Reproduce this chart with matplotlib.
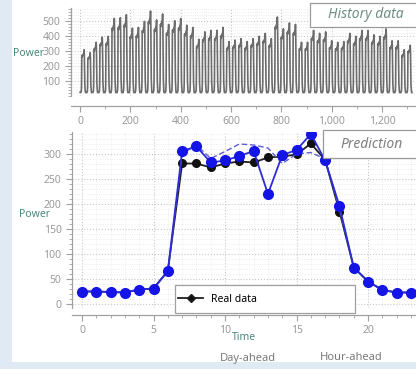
import matplotlib.pyplot as plt
import numpy as np
from matplotlib.lines import Line2D
from matplotlib.patches import Rectangle
from matplotlib.ticker import MultipleLocator, StrMethodFormatter

plt.rcParams['font.family'] = ['Noto Sans', 'DejaVu Sans']

# prediction panel (hourly values, one day)
hours = list(range(24))
real_data = [25, 25, 24, 23, 29, 31, 66, 281, 281, 273, 281, 285, 283, 293,
             295, 299, 321, 288, 185, 73, 45, 28, 23, 23]
hour_ahead = [25, 25, 24, 23, 29, 31, 66, 306, 315, 283, 287, 296, 306, 220,
              298, 308, 340, 287, 196, 73, 45, 28, 23, 23]
day_ahead = [25, 25, 24, 23, 29, 31, 66, 300, 318, 291, 305, 320, 318, 312,
             281, 300, 303, 290, 190, 73, 45, 28, 23, 23]

# history panel: daily peaks (55 days)
daily_peaks = [310, 290, 360, 395, 400, 520, 525, 545, 455, 460, 500, 570,
               510, 550, 480, 505, 520, 475, 460, 380, 430, 440, 440, 460,
               365, 375, 385, 365, 385, 400, 420, 385, 530, 450, 490, 480,
               360, 360, 440, 420, 430, 370, 360, 365, 420, 400, 440, 440,
               410, 400, 450, 370, 370, 310, 340]

# history curve: the real-data day profile stretched to each day's peak
profile = np.array(real_data, dtype=float)
base, top = profile.min(), profile.max()
history = np.concatenate([base + (profile - base) / (top - base) * (p - base)
                          for p in daily_peaks])
history_x = np.arange(len(history))

W, H = 416, 369
fig = plt.figure(figsize=(W / 100, H / 100), dpi=100, facecolor='#dfeaf4')
fig.patches.append(Rectangle((12 / W, 7 / H), 1, 1, transform=fig.transFigure,
                             facecolor='white', edgecolor='none', zorder=-10))

tick_col = '#9a9a9a'
lab_col = '#4a8a7e'


def style(ax):
    for s in ['top', 'right']:
        ax.spines[s].set_visible(False)
    for s in ['left', 'bottom']:
        ax.spines[s].set_color('#a0a0a0')
        ax.spines[s].set_linewidth(0.9)
    ax.tick_params(which='both', colors='#a0a0a0', labelcolor=tick_col,
                   labelsize=7.5, direction='out')
    ax.tick_params(which='major', length=4)
    ax.tick_params(which='minor', length=2)
    ax.grid(which='major', color='#c8c8c8', linestyle=':', linewidth=0.8)
    ax.grid(which='minor', color='#e8e8e8', linestyle=':', linewidth=0.6)
    ax.set_facecolor('none')


# top: history data
ax1 = fig.add_axes([71 / W, 1 - 96 / H, 345 / W, 88 / H])
style(ax1)
ax1.plot(history_x, history, color='#6c6c6c', linewidth=1.2)
ax1.set_xlim(-36, 1335)
ax1.set_ylim(0, 590)
ax1.set_yticks([100, 200, 300, 400, 500])
ax1.yaxis.set_minor_locator(MultipleLocator(20))
ax1.xaxis.set_major_locator(MultipleLocator(200))
ax1.xaxis.set_minor_locator(MultipleLocator(100))
ax1.xaxis.set_major_formatter(StrMethodFormatter('{x:,.0f}'))
ax1.spines['bottom'].set_position(('outward', 7))
fig.text(29 / W, 1 - 54 / H, 'Power', color=lab_col, fontsize=7.5,
         fontweight='bold', ha='center', va='center')

fig.patches.append(Rectangle((310 / W, 1 - 27 / H), 0.3, 24 / H,
                             transform=fig.transFigure, facecolor='white',
                             edgecolor='#9a9a9a', linewidth=0.9, zorder=5))
fig.text(328 / W, 1 - 15 / H, 'History data', color='#6f8f86', fontsize=10,
         style='italic', ha='left', va='center', zorder=6)

# bottom: prediction
ax2 = fig.add_axes([72 / W, 1 - 308 / H, 344 / W, 176 / H])
style(ax2)
ax2.plot(hours, real_data, color='#202020', linewidth=1.3, marker='o',
         markersize=5.5, markerfacecolor='#111111', markeredgecolor='#111111',
         zorder=3)
ax2.plot(hours, day_ahead, color='#5c5cd6', linewidth=1.0, linestyle=(0, (4, 2)),
         zorder=4)
ax2.plot(hours, hour_ahead, color='#2c2cd8', linewidth=1.3, marker='o',
         markersize=7, markerfacecolor='#1414e6', markeredgecolor='#1414e6',
         zorder=5)
ax2.set_xlim(-0.7, 23.35)
ax2.set_ylim(-8, 344)
ax2.set_yticks([0, 50, 100, 150, 200, 250, 300])
ax2.yaxis.set_minor_locator(MultipleLocator(10))
ax2.xaxis.set_major_locator(MultipleLocator(5))
ax2.xaxis.set_minor_locator(MultipleLocator(1))
ax2.spines['bottom'].set_position(('outward', 5))
ax2.set_xlabel('Time', color=lab_col, fontsize=7.5, fontweight='bold')
ax2.xaxis.label.set_va('center')
ax2.xaxis.set_label_coords(0.5, -29 / 176)
fig.text(35 / W, 1 - 215 / H, 'Power', color=lab_col, fontsize=7.5,
         fontweight='bold', ha='center', va='center')

# legend frame and entry
ax2.add_patch(Rectangle(((175 - 72) / 344, -5 / 176), 180 / 344, 28 / 176,
                        transform=ax2.transAxes, facecolor='white',
                        edgecolor='#a0a0a0', linewidth=0.9, clip_on=False,
                        zorder=2))
handle = Line2D([], [], color='#202020', linewidth=1.3, marker='D',
                markersize=4.5, markerfacecolor='#111111')
ax2.legend([handle], ['Real data'], loc='center left', frameon=False,
           bbox_to_anchor=((178 - 72) / 344, 9 / 176), fontsize=7.5,
           handlelength=2.4, borderpad=0, borderaxespad=0)

fig.patches.append(Rectangle((323 / W, 1 - 158 / H), 0.3, 28 / H,
                             transform=fig.transFigure, facecolor='white',
                             edgecolor='#9a9a9a', linewidth=0.9, zorder=5))
fig.text(340 / W, 1 - 144 / H, 'Prediction', color='#808080', fontsize=10,
         style='italic', ha='left', va='center', zorder=6)

fig.text(248 / W, 1 - 358 / H, 'Day-ahead', color='#7a7a7a', fontsize=8,
         ha='center', va='center')
fig.text(351 / W, 1 - 358 / H, 'Hour-ahead', color='#7a7a7a', fontsize=8,
         ha='center', va='center')

fig.savefig('out.png', dpi=100, facecolor=fig.get_facecolor())
